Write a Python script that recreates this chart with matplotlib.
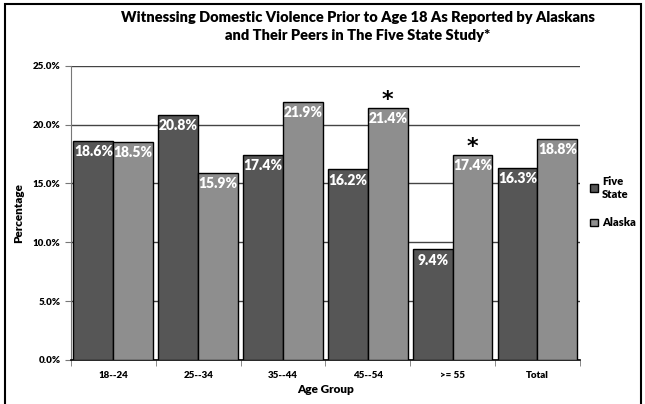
import matplotlib.pyplot as plt
import matplotlib.patches as mpatches
import numpy as np

plt.rcParams['font.family'] = ['Lato', 'DejaVu Sans']

# Age groups and survey percentages
age_groups = ["18--24", "25--34", "35--44", "45--54", ">= 55", "Total"]
five_state = [18.6, 20.8, 17.4, 16.2, 9.4, 16.3]
alaska = [18.5, 15.9, 21.9, 21.4, 17.4, 18.8]
significant = [False, False, False, True, True, False]

fig = plt.figure(figsize=(6.45, 4.04), dpi=100)
ax = fig.add_axes([0.110, 0.109, 0.789, 0.728])

x = np.arange(len(age_groups))
w = 0.47
bars_fs = ax.bar(x - w / 2, five_state, w, color="#565656", edgecolor="black",
                 linewidth=1, label="Five\nState", zorder=3)
bars_ak = ax.bar(x + w / 2, alaska, w, color="#8e8e8e", edgecolor="black",
                 linewidth=1, label="Alaska", zorder=3)

# Value labels just inside the bar tops
for bars in (bars_fs, bars_ak):
    for b in bars:
        ax.annotate(f"{b.get_height():.1f}%", (b.get_x() + b.get_width() / 2, b.get_height()),
                    xytext=(0, -3), textcoords="offset points", ha="center", va="top",
                    color="white", fontsize=10, fontweight="heavy", zorder=4)

# Asterisks marking significant differences
for b, sig in zip(bars_ak, significant):
    if sig:
        ax.annotate("*", (b.get_x() + b.get_width() / 2, b.get_height()),
                    xytext=(0, 6), textcoords="offset points", ha="center", va="center",
                    fontsize=16, fontweight="bold", color="black",
                    family="DejaVu Sans")

ax.set_xlim(-0.5, len(age_groups) - 0.5)
ax.set_ylim(0, 25)
ax.set_yticks(np.arange(0, 26, 5))
ax.set_yticklabels([f"{v:.1f}%" for v in np.arange(0, 26, 5)], fontsize=7, fontweight="heavy")
ax.set_xticks(x)
ax.set_xticklabels(age_groups, fontsize=7, fontweight="heavy")
ax.tick_params(axis="x", length=0, pad=8)
ax.tick_params(axis="y", length=4, direction="out", color="#777777")
ax.set_xticks(np.arange(-0.5, len(age_groups)), minor=True)
ax.tick_params(axis="x", which="minor", length=4, color="#777777")

ax.yaxis.grid(True, color="#444444", linewidth=1, zorder=0)
for s in ("top", "right"):
    ax.spines[s].set_visible(False)
ax.spines["left"].set_color("#777777")
ax.spines["bottom"].set_color("black")
ax.spines["bottom"].set_linewidth(1.2)

ax.set_xlabel("Age Group", fontsize=8.5, fontweight="heavy", labelpad=3)
ax.set_ylabel("Percentage", fontsize=8.5, fontweight="heavy", labelpad=6)

fig.text(0.555, 0.935, "Witnessing Domestic Violence Prior to Age 18 As Reported by Alaskans\n"
         "and Their Peers in The Five State Study*", ha="center", va="center",
         fontsize=10.5, fontweight="heavy", linespacing=1.5)

fig.legend(loc="center left", bbox_to_anchor=(0.903, 0.5), frameon=False,
           handlelength=0.7, handleheight=0.7, handletextpad=0.35, labelspacing=1.6,
           borderpad=0.2, prop={"size": 8, "weight": "heavy"})

# Outer frame
fig.patches.append(mpatches.Rectangle((0.007, -0.01), 0.987, 1.0, transform=fig.transFigure,
                                      fill=False, edgecolor="black", linewidth=1.5))

fig.savefig("out.png", dpi=100)
